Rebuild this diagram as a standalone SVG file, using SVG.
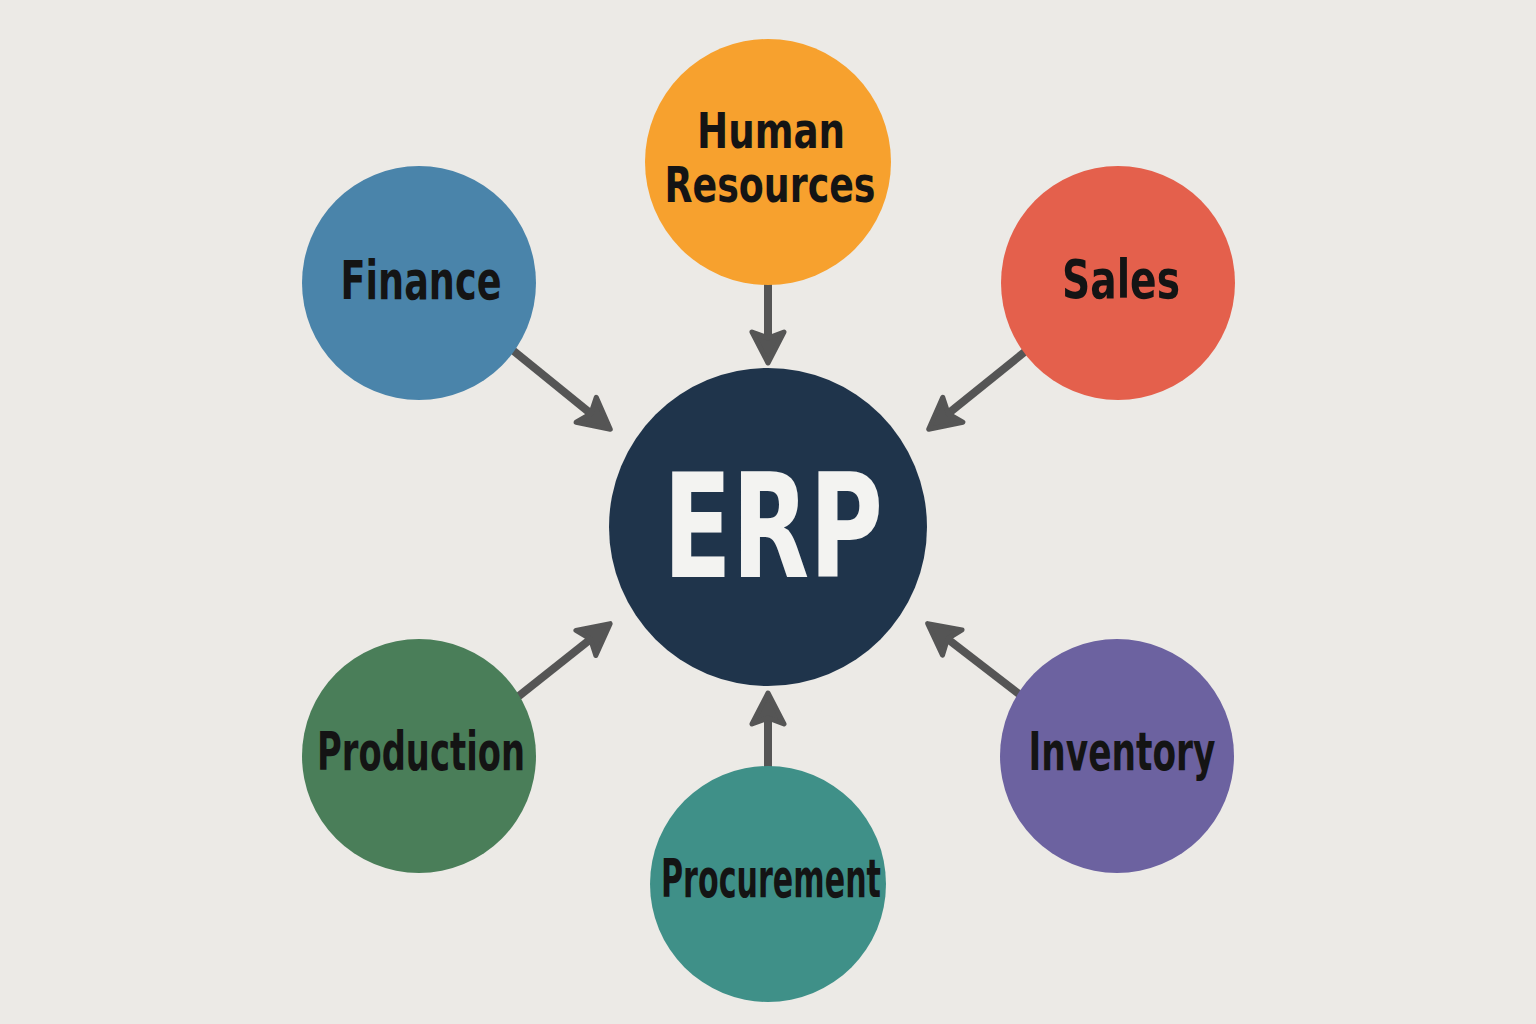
<svg xmlns="http://www.w3.org/2000/svg" width="1536" height="1024" viewBox="0 0 1536 1024">
<defs>
<style>
.lbl{font-family:"DejaVu Sans Condensed","DejaVu Sans","Liberation Sans",sans-serif;font-weight:bold;font-size:54px;fill:#141414;text-anchor:middle}
.hr{font-size:50px}
.erp{font-family:"DejaVu Sans","Liberation Sans",sans-serif;font-weight:bold;font-size:144px;fill:#F3F3F1;text-anchor:middle}
.conn{stroke:#555555;stroke-width:8;fill:none;marker-end:url(#ah)}
</style>
<marker id="ah" markerUnits="userSpaceOnUse" viewBox="-12 -24 46 48" markerWidth="46" markerHeight="48" refX="0" refY="0" orient="auto">
<path d="M -4,-16 L 27,0 L -4,16 L 2,0 Z" fill="#555555" stroke="#555555" stroke-width="5" stroke-linejoin="round"/>
</marker>
</defs>
<rect width="1536" height="1024" fill="#ECEAE6"/>
<g id="connectors">
<line class="conn" x1="768" y1="280" x2="768" y2="336"/>
<line class="conn" x1="505" y1="344" x2="589.3" y2="412.3"/>
<line class="conn" x1="1032" y1="346" x2="949.7" y2="412.3"/>
<line class="conn" x1="510" y1="703" x2="589" y2="640.4"/>
<line class="conn" x1="1028" y1="701" x2="949.1" y2="640.1"/>
<line class="conn" x1="768" y1="772" x2="768" y2="720"/>
</g>
<g id="erp">
<circle cx="768" cy="527" r="159" fill="#1F344B"/>
<text class="erp" x="773" y="577" textLength="220" lengthAdjust="spacingAndGlyphs">ERP</text>
</g>
<g id="hr">
<circle cx="768" cy="162" r="123" fill="#F7A12E"/>
<text class="lbl hr" x="771" y="148" textLength="148" lengthAdjust="spacingAndGlyphs">Human</text>
<text class="lbl hr" x="770" y="202" textLength="211" lengthAdjust="spacingAndGlyphs">Resources</text>
</g>
<g id="finance">
<circle cx="419" cy="283" r="117" fill="#4A84AA"/>
<text class="lbl" x="421" y="299" textLength="161" lengthAdjust="spacingAndGlyphs">Finance</text>
</g>
<g id="sales">
<circle cx="1118" cy="283" r="117" fill="#E4604C"/>
<text class="lbl" x="1121" y="298" textLength="118" lengthAdjust="spacingAndGlyphs">Sales</text>
</g>
<g id="production">
<circle cx="419" cy="756" r="117" fill="#4A7E59"/>
<text class="lbl" x="421" y="770" textLength="208" lengthAdjust="spacingAndGlyphs">Production</text>
</g>
<g id="inventory">
<circle cx="1117" cy="756" r="117" fill="#6C62A0"/>
<text class="lbl" x="1122" y="770" textLength="187" lengthAdjust="spacingAndGlyphs">Inventory</text>
</g>
<g id="procurement">
<circle cx="768" cy="884" r="118" fill="#3F9088"/>
<text class="lbl" x="771" y="897" textLength="220" lengthAdjust="spacingAndGlyphs">Procurement</text>
</g>
</svg>
